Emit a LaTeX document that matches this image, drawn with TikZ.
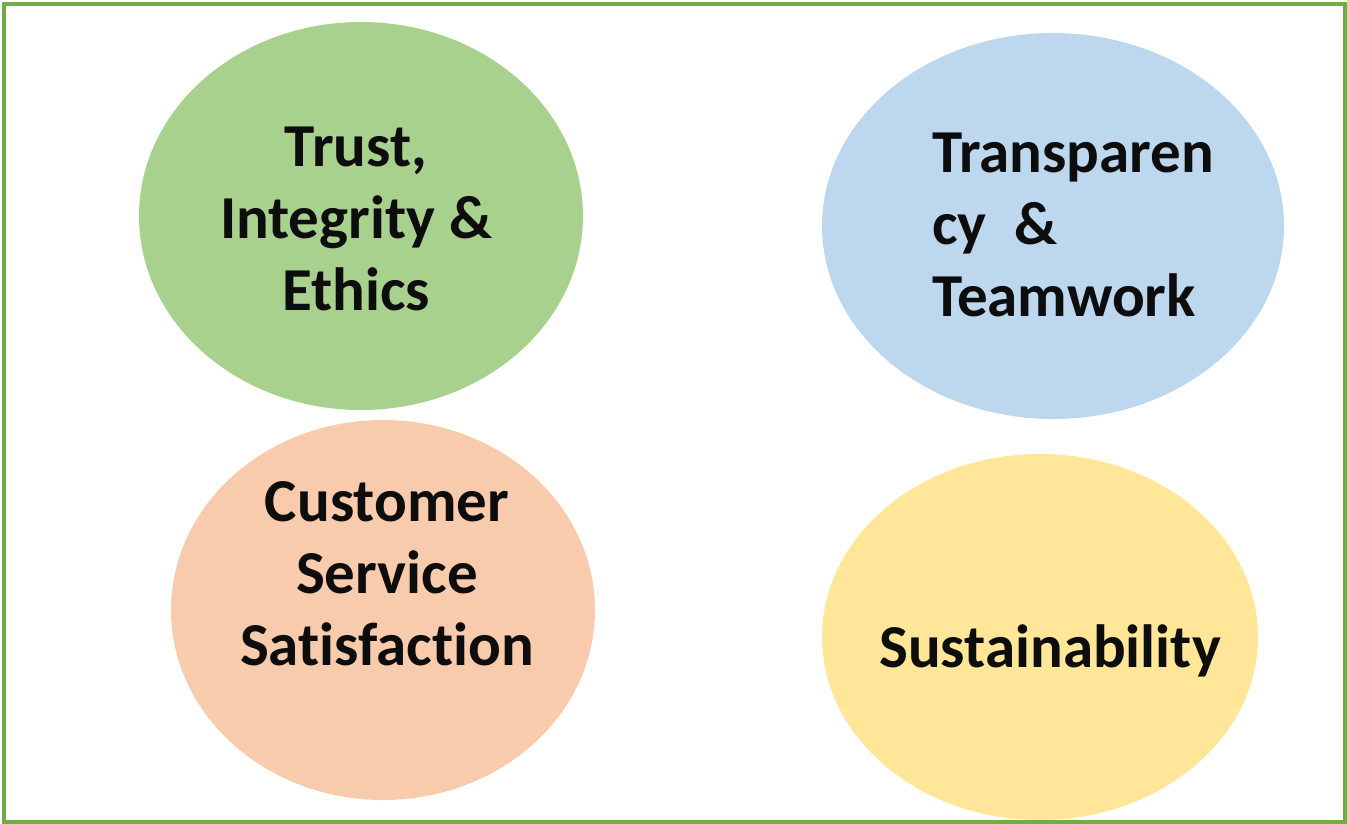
\documentclass[tikz,border=0pt]{standalone}
\usepackage{fontspec}
\setmainfont{Carlito}[Ligatures=NoCommon]
\usepackage{tikz}
\usetikzlibrary{shapes.geometric}

\definecolor{framegreen}{HTML}{70AD47}
\definecolor{trustfill}{HTML}{A9D18E}
\definecolor{teamfill}{HTML}{BDD7EE}
\definecolor{custfill}{HTML}{F8CBAD}
\definecolor{sustfill}{HTML}{FFE699}
\definecolor{inktext}{HTML}{0D0D0D}

\begin{document}
\begin{tikzpicture}[x=1pt,y=-1pt,
    bubble/.style={ellipse,inner sep=0pt,draw=none},
    label/.style={inner sep=0pt,text=inktext,font=\fontsize{61}{72}\selectfont\bfseries}]

\useasboundingbox (0,0) rectangle (1347,823);

\draw[framegreen,line width=4] (3.5,3.5) rectangle (1345,821.5);

\node[bubble,fill=trustfill,minimum width=444,minimum height=388] (trust) at (361,216) {};
\node[bubble,fill=teamfill,minimum width=462,minimum height=386] (team) at (1053,226) {};
\node[bubble,fill=custfill,minimum width=424,minimum height=380] (cust) at (383,610) {};
\node[bubble,fill=sustfill,minimum width=436,minimum height=366] (sust) at (1040,637) {};

\node[label,align=center] (trusttext) at (356,219) {Trust,\\Integrity \&\\Ethics};
\node[label,align=left,anchor=west] (teamtext) at (932,225) {Transparen\\cy~~\&\\Teamwork};
\node[label,align=center] (custtext) at (387,574) {Customer\\Service\\Satisfact\kern0pt ion};
\node[label,anchor=base] (susttext) at (1050,667) {Sustainability};

\end{tikzpicture}
\end{document}
